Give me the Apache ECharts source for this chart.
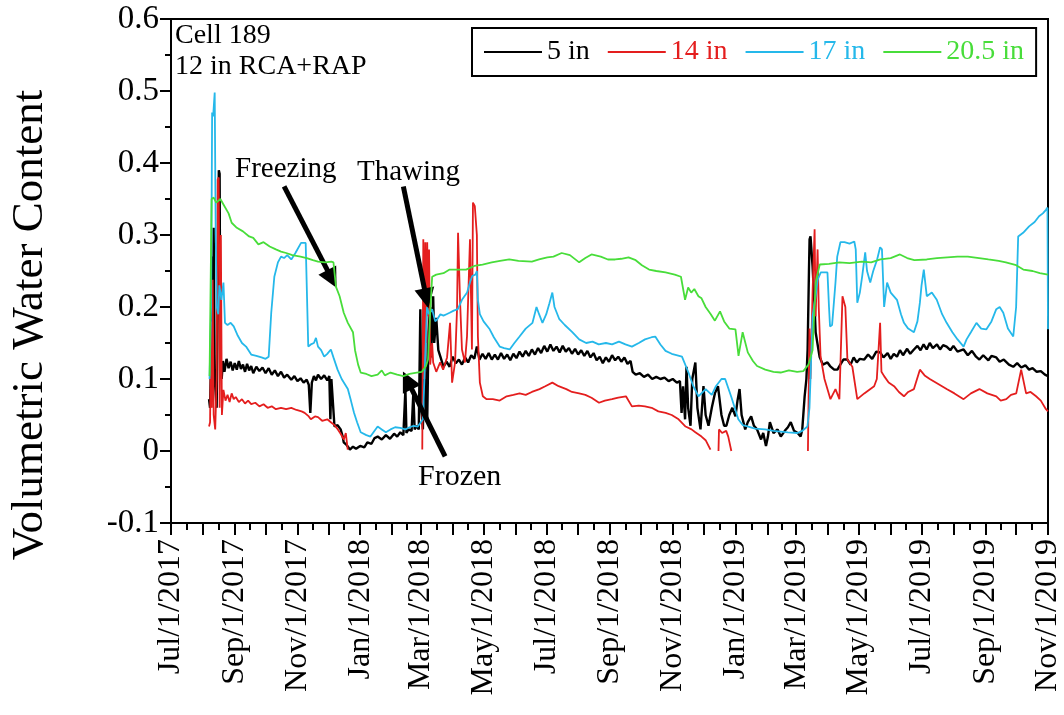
<!DOCTYPE html>
<html><head><meta charset="utf-8">
<script src="https://cdn.jsdelivr.net/npm/echarts@6/dist/echarts.min.js"></script>
<style>html,body{margin:0;padding:0;background:#fff}#c{width:1064px;height:715px}</style>
</head><body><div id="c"></div><script>
// ---- data (x = days since Jul/1/2017, y = volumetric water content) ----
const startDate = '2017-07-01';
const endDate = '2019-11-01';
const monthTickDates = ['2017-07-01','2017-08-01','2017-09-01','2017-10-01','2017-11-01','2017-12-01','2018-01-01','2018-02-01','2018-03-01','2018-04-01','2018-05-01','2018-06-01','2018-07-01','2018-08-01','2018-09-01','2018-10-01','2018-11-01','2018-12-01','2019-01-01','2019-02-01','2019-03-01','2019-04-01','2019-05-01','2019-06-01','2019-07-01','2019-08-01','2019-09-01','2019-10-01','2019-11-01'];
const tickLabelDates = ['2017-07-01','2017-09-01','2017-11-01','2018-01-01','2018-03-01','2018-05-01','2018-07-01','2018-09-01','2018-11-01','2019-01-01','2019-03-01','2019-05-01','2019-07-01','2019-09-01','2019-11-01'];
const tickLabels = ['Jul/1/2017','Sep/1/2017','Nov/1/2017','Jan/1/2018','Mar/1/2018','May/1/2018','Jul/1/2018','Sep/1/2018','Nov/1/2018','Jan/1/2019','Mar/1/2019','May/1/2019','Jul/1/2019','Sep/1/2019','Nov/1/2019'];
const seriesNames = ['5 in','14 in','17 in','20.5 in'];
const seriesColors = ['#000000','#e41e1e','#25b8ea','#48dd3a'];

const vwc5in = [[37,0.072],[38,0.06],[39,0.13],[39.6,0.27],[40.5,0.08],[41.5,0.31],[42.5,0.1],[44.4,0.06],[45.4,0.2],[46.5,0.39],[47.3,0.385],[48,0.12],[49.3,0.1],[50.5,0.125],[52,0.11],[54,0.128],[56,0.115],[58,0.124],[60,0.112],[62,0.122],[64,0.113],[66,0.125],[68,0.114],[70,0.12],[72,0.11],[74,0.121],[76,0.112],[78,0.118],[80,0.108],[83,0.117],[86,0.111],[89,0.116],[92,0.108],[95,0.115],[98,0.106],[101,0.112],[104,0.104],[107,0.11],[110,0.102],[113,0.106],[117,0.099],[120,0.104],[123,0.097],[126,0.101],[129,0.095],[132,0.099],[134,0.092],[135.5,0.053],[137,0.095],[139,0.104],[141,0.098],[143,0.106],[146,0.1],[149,0.105],[152,0.098],[154,0.104],[155,0.044],[156,0.1],[157.5,0.1],[159,0.034],[162,0.036],[165,0.03],[167,0.02],[168,0.012],[171,0.008],[174,0.002],[177,0.006],[180,0.003],[184,0.007],[188,0.005],[191,0.012],[195,0.01],[198,0.018],[201,0.02],[205,0.016],[209,0.022],[213,0.017],[217,0.024],[220,0.02],[223,0.026],[226,0.022],[228,0.086],[229,0.025],[231,0.03],[234,0.028],[235.7,0.081],[237,0.03],[239,0.035],[241,0.03],[242.5,0.197],[243.5,0.06],[245,0.03],[247,0.192],[248,0.05],[249.2,0.04],[250.5,0.165],[252,0.2],[253,0.13],[255,0.215],[256,0.15],[258,0.185],[260,0.14],[262,0.131],[265,0.117],[268,0.124],[271,0.117],[274,0.131],[277,0.122],[280,0.127],[283,0.12],[286,0.13],[289,0.123],[292,0.133],[295,0.128],[297.5,0.145],[300,0.127],[303,0.135],[306,0.128],[309,0.136],[312,0.127],[315,0.134],[318,0.127],[321,0.136],[324,0.128],[327,0.134],[330,0.126],[333,0.135],[336,0.129],[339,0.138],[342,0.131],[345,0.139],[348,0.132],[351,0.141],[354,0.134],[357,0.143],[360,0.136],[363,0.146],[366,0.138],[369,0.148],[372,0.139],[375,0.145],[378,0.137],[381,0.146],[384,0.138],[387,0.143],[390,0.135],[393,0.142],[396,0.134],[399,0.14],[402,0.132],[405,0.139],[408,0.13],[411,0.136],[414,0.126],[417,0.131],[420,0.122],[423,0.13],[426,0.124],[429,0.133],[432,0.126],[435,0.131],[438,0.124],[441,0.13],[444,0.121],[447,0.125],[449,0.11],[452,0.106],[456,0.108],[460,0.103],[464,0.106],[468,0.1],[472,0.103],[476,0.1],[480,0.102],[484,0.097],[488,0.1],[492,0.095],[495,0.097],[496.6,0.053],[498,0.09],[500,0.044],[501.4,0.117],[503,0.06],[505.3,0.035],[507,0.1],[510,0.123],[512,0.06],[515,0.03],[517.9,0.09],[520,0.05],[522.8,0.035],[526,0.06],[529,0.08],[532,0.09],[535.4,0.05],[538,0.035],[540.2,0.035],[543,0.05],[546,0.06],[549,0.048],[551,0.07],[553,0.086],[555,0.05],[558.5,0.03],[561,0.04],[564.3,0.048],[567,0.035],[570,0.03],[573.9,0.016],[576,0.025],[578.7,0.007],[580.6,0.02],[582.5,0.04],[586,0.025],[590,0.03],[593.1,0.02],[597,0.028],[600,0.033],[602.8,0.04],[606,0.028],[609.5,0.025],[612.4,0.02],[614,0.03],[616.3,0.076],[618,0.1],[619.2,0.141],[620.5,0.25],[621.1,0.294],[622,0.298],[624,0.257],[626,0.2],[627,0.165],[630.8,0.131],[634,0.12],[638.5,0.123],[641,0.118],[645,0.113],[648.2,0.113],[651,0.12],[654,0.127],[657.9,0.127],[661,0.12],[664,0.13],[667,0.123],[670,0.128],[674.3,0.127],[678,0.134],[682,0.128],[686,0.138],[689.7,0.137],[693,0.13],[697,0.136],[700,0.128],[703,0.135],[706.1,0.131],[709,0.14],[712,0.133],[716,0.142],[719,0.135],[722.6,0.141],[726,0.146],[729,0.14],[732,0.148],[735,0.141],[738,0.15],[741,0.143],[745,0.148],[748,0.141],[751,0.147],[754.4,0.145],[758,0.14],[761,0.146],[765,0.138],[770.9,0.141],[775,0.133],[779,0.139],[783,0.131],[786.3,0.127],[790,0.133],[795,0.126],[798,0.132],[802.7,0.13],[806,0.124],[810,0.127],[815,0.12],[819.2,0.117],[823,0.122],[827,0.116],[831,0.119],[834.6,0.113],[838,0.115],[842,0.11],[846,0.111],[850,0.106],[853,0.104]];

const vwc14in = [[37,0.034],[38,0.04],[39,0.18],[39.6,0.06],[40.5,0.238],[41.5,0.05],[43,0.03],[44.4,0.1],[45.4,0.377],[46.4,0.38],[47.3,0.06],[48.5,0.3],[49.5,0.05],[51,0.085],[53,0.07],[55,0.078],[57,0.068],[59,0.08],[61,0.072],[63,0.075],[66,0.068],[69,0.072],[72,0.066],[75,0.07],[78,0.065],[82,0.067],[86,0.062],[90,0.065],[94,0.06],[98,0.062],[102,0.058],[107,0.06],[112,0.058],[117,0.06],[122,0.057],[127,0.055],[130,0.053],[134,0.048],[136,0.044],[140,0.048],[143,0.047],[147,0.042],[152,0.044],[155.5,0.04],[159,0.036],[162.3,0.03],[165,0.024],[168.1,0.016],[170,0.025],[171.9,0.002],[172.5,null],[244.4,0.002],[245.4,0.294],[246.5,0.1],[247.3,0.29],[248.3,0.15],[249.2,0.29],[250.2,0.187],[251,0.28],[252.1,0.12],[254,0.15],[255,0.123],[258,0.11],[261.8,0.123],[264.7,0.113],[268.5,0.13],[271.4,0.178],[273.4,0.095],[276.3,0.123],[278.2,0.197],[279.2,0.303],[281.1,0.21],[283,0.141],[285.9,0.123],[287.9,0.159],[290.8,0.294],[292.7,0.141],[293.7,0.345],[295.5,0.34],[297.5,0.3],[298.5,0.159],[300.4,0.095],[303.3,0.076],[307,0.072],[313,0.072],[319.7,0.07],[326.5,0.076],[333,0.078],[339.1,0.08],[345,0.078],[351,0.082],[358.4,0.086],[364,0.09],[370.9,0.095],[377,0.09],[384.5,0.086],[390,0.082],[397,0.08],[403,0.078],[409,0.074],[416.3,0.067],[422,0.07],[428.9,0.072],[435,0.074],[442.5,0.076],[448.3,0.062],[455,0.063],[461,0.062],[467.5,0.06],[474,0.055],[481.1,0.053],[487,0.05],[493.7,0.044],[500.5,0.034],[506.3,0.03],[510,0.026],[516,0.02],[520,0.015],[524.7,0.002],[525.5,null],[532.5,0.0],[533,0.03],[536,0.025],[540,0.028],[542,0.02],[545,0.0],[545.5,null],[619.5,0.0],[621,0.17],[622,0.1],[624,0.22],[626,0.308],[627,0.187],[628.9,0.28],[630,0.2],[631.8,0.131],[635.6,0.1],[641.4,0.072],[646.3,0.086],[650.1,0.072],[653.1,0.215],[655.9,0.2],[657.9,0.127],[662.7,0.117],[667.5,0.072],[674.3,0.08],[683.9,0.09],[686.5,0.1],[689.7,0.178],[691,0.11],[693.6,0.104],[698,0.095],[703.3,0.09],[708,0.082],[712.9,0.076],[717,0.082],[722.6,0.086],[728.4,0.113],[733,0.105],[738,0.1],[745,0.094],[754.4,0.086],[762,0.08],[770.9,0.072],[778,0.08],[786.3,0.086],[794,0.08],[802.7,0.076],[807,0.07],[812.4,0.072],[817,0.078],[822.1,0.08],[826.9,0.113],[831.7,0.08],[836,0.082],[841.4,0.076],[846,0.07],[851,0.058],[853,0.055]];

const vwc17in = [[37.5,0.1],[39,0.2],[40,0.47],[41,0.465],[42.5,0.498],[43.5,0.3],[44.5,0.2],[46,0.19],[47,0.23],[49,0.21],[51,0.234],[52.5,0.178],[55,0.175],[58,0.178],[61,0.173],[65,0.16],[69,0.15],[73,0.145],[78,0.134],[83,0.132],[88,0.13],[92,0.128],[95,0.131],[97.5,0.192],[100.5,0.242],[104,0.262],[107,0.27],[110,0.268],[113,0.272],[117,0.266],[121,0.275],[126.5,0.289],[131,0.289],[132.5,0.289],[133.5,0.145],[136,0.148],[139,0.15],[141,0.157],[143,0.145],[146,0.14],[149,0.131],[152,0.135],[155.5,0.141],[158,0.13],[162,0.113],[166,0.1],[172,0.086],[175,0.07],[178,0.053],[181,0.04],[184.5,0.026],[190,0.022],[194,0.02],[198,0.028],[201,0.034],[205,0.03],[209,0.026],[213.5,0.03],[218,0.033],[223,0.032],[228,0.03],[232,0.033],[236,0.035],[240,0.034],[243,0.04],[245,0.044],[247,0.12],[249,0.2],[251,0.19],[254,0.197],[257,0.18],[259,0.183],[262,0.19],[265,0.188],[268,0.19],[271,0.192],[275,0.195],[279,0.197],[283,0.21],[288,0.22],[291,0.235],[293,0.243],[296,0.245],[297.5,0.25],[298.5,0.21],[300.4,0.19],[304,0.18],[310,0.169],[314,0.158],[319.7,0.145],[324,0.143],[329.4,0.141],[334,0.15],[339,0.159],[345,0.17],[351.6,0.178],[355.5,0.2],[358,0.19],[361.3,0.178],[365,0.19],[368,0.205],[370.9,0.22],[373,0.2],[377.7,0.183],[383,0.175],[390.3,0.165],[397,0.155],[403.8,0.15],[410,0.152],[416,0.148],[423,0.15],[429,0.148],[435.7,0.152],[442,0.148],[448.3,0.145],[455,0.15],[461,0.155],[467.5,0.158],[471,0.159],[476,0.148],[481,0.139],[487,0.135],[497,0.131],[503.3,0.109],[508,0.09],[513,0.076],[520,0.086],[526,0.078],[530,0.09],[535.4,0.1],[539,0.1],[545,0.075],[551.8,0.044],[556,0.036],[561.5,0.034],[568,0.031],[577.8,0.03],[586,0.028],[593,0.027],[600,0.026],[609.5,0.025],[614,0.028],[619,0.034],[621,0.06],[622,0.1],[624,0.187],[627,0.215],[629,0.238],[632,0.248],[638.5,0.248],[640,0.2],[641,0.173],[643,0.175],[646.3,0.234],[648,0.27],[651.1,0.29],[655,0.29],[660,0.288],[664.6,0.291],[666,0.28],[667.5,0.206],[670,0.22],[672.3,0.243],[675.2,0.276],[677,0.25],[680.1,0.234],[683,0.25],[686.8,0.266],[689.7,0.283],[691.5,0.28],[693.6,0.2],[696.5,0.234],[700,0.22],[706.1,0.21],[710,0.19],[712.9,0.178],[717,0.17],[722.6,0.165],[726,0.18],[728.4,0.206],[730,0.23],[732.2,0.252],[735.1,0.215],[740,0.22],[744.8,0.21],[750,0.19],[754.4,0.178],[760,0.165],[765,0.155],[770.9,0.145],[773.8,0.155],[778,0.165],[783.4,0.178],[788,0.17],[793.1,0.169],[798,0.18],[802.7,0.197],[806,0.2],[809.5,0.192],[814,0.17],[819.2,0.159],[822,0.2],[824,0.298],[828.8,0.303],[834.6,0.312],[840,0.318],[844.3,0.326],[848,0.33],[851,0.335],[852.5,0.338],[853,0.169]];

const vwc20_5in = [[37.5,0.104],[39.5,0.35],[41.5,0.352],[44,0.345],[48,0.35],[52,0.34],[56,0.33],[59,0.317],[64,0.31],[70,0.305],[76,0.298],[80,0.296],[85,0.287],[90,0.29],[96,0.284],[102,0.28],[107,0.277],[112,0.275],[118,0.272],[126,0.27],[132,0.268],[138,0.265],[143,0.263],[150,0.262],[156,0.263],[158,0.262],[160.5,0.228],[164,0.215],[168,0.192],[172,0.178],[177,0.165],[179,0.14],[182,0.12],[184.5,0.109],[190,0.107],[195,0.104],[201,0.106],[205,0.112],[208,0.105],[213.5,0.109],[220,0.106],[226,0.104],[232,0.107],[239,0.109],[244,0.11],[248,0.118],[250,0.127],[252,0.19],[254,0.242],[258,0.245],[265,0.247],[271,0.252],[280,0.252],[287,0.252],[295,0.257],[303,0.259],[312,0.262],[320,0.264],[329,0.266],[338,0.264],[351,0.263],[358,0.266],[366,0.269],[372,0.27],[380,0.275],[388,0.272],[397,0.262],[403,0.268],[409,0.273],[418,0.27],[425,0.266],[432,0.266],[438,0.267],[445,0.269],[452,0.265],[458,0.258],[465,0.252],[472,0.25],[481,0.248],[490,0.245],[496,0.242],[500,0.21],[503,0.227],[506,0.22],[509,0.225],[513,0.215],[516,0.212],[520,0.2],[525,0.19],[529,0.181],[534,0.194],[538,0.18],[543,0.17],[549,0.169],[552,0.132],[556,0.165],[561,0.137],[566,0.125],[570,0.118],[578,0.113],[586,0.11],[593,0.109],[601,0.112],[609,0.11],[615,0.111],[620,0.12],[624,0.14],[627,0.234],[631,0.259],[640,0.26],[650,0.262],[660,0.261],[672,0.263],[681,0.262],[690,0.266],[700,0.268],[709,0.273],[716,0.268],[723,0.265],[735,0.266],[745,0.268],[755,0.269],[765,0.27],[775,0.27],[786,0.268],[795,0.266],[805,0.264],[812,0.262],[822,0.258],[829,0.252],[838,0.25],[845,0.247],[853,0.245]];

// annotation arrows: [days, value] start -> end
const annotations = [
  {text:'Freezing', from:[110,0.3675], to:[156.5,0.239]},
  {text:'Thawing', from:[226,0.3675], to:[248.4,0.212]},
  {text:'Frozen', from:[266.6,-0.0075], to:[229.9,0.098]}
];

// ---- helpers ----
const toT = s => { const p = s.split('-').map(Number); return Date.UTC(p[0], p[1]-1, p[2]); };
const T0 = toT(startDate);
const dayT = d => T0 + d*86400000;
const toSeries = arr => arr.map(([d,v]) => [dayT(d), v]);
const labelByTime = {};
tickLabelDates.forEach((s,i) => { labelByTime[toT(s)] = tickLabels[i]; });
const majorTicks = monthTickDates.map(toT);
const midTicks = majorTicks.slice(0,-1).map((t,i) => (t + majorTicks[i+1]) / 2);

const FONT = 'Liberation Serif';
const allData = [vwc5in, vwc14in, vwc17in, vwc20_5in];

const series = allData.map((arr, i) => ({
  name: seriesNames[i], type: 'line', data: toSeries(arr), showSymbol: false,
  connectNulls: false, z: 2 + i,
  lineStyle: {color: seriesColors[i], width: i === 0 ? 2.4 : 1.8},
  itemStyle: {color: seriesColors[i]}
}));
series[3].markLine = {
  silent: true, animation: false, symbol: ['none','triangle'], symbolSize: 20,
  label: {show: false},
  itemStyle: {color: '#000'},
  lineStyle: {color: '#000', width: 5, type: 'solid'},
  data: annotations.map(a => [{coord:[dayT(a.from[0]), a.from[1]]}, {coord:[dayT(a.to[0]), a.to[1]]}])
};

const chart = echarts.init(document.getElementById('c'), null, {renderer: 'canvas'});
chart.setOption({
  animation: false,
  backgroundColor: '#fff',
  grid: {left: 169, right: 12, top: 19, bottom: 192, show: true, borderColor: '#000', borderWidth: 2},
  legend: {
    left: 472, top: 28, orient: 'horizontal',
    borderColor: '#000', borderWidth: 2, padding: [10, 12, 10, 12],
    itemGap: 18, itemWidth: 58, itemHeight: 2, icon: 'rect',
    textStyle: {fontFamily: FONT, fontSize: 28},
    data: seriesNames.map((n,i) => ({name: n, textStyle: {color: seriesColors[i], fontFamily: FONT, fontSize: 28}}))
  },
  xAxis: [{
    type: 'value', min: toT(startDate), max: toT(endDate),
    axisLine: {show: true, onZero: false, lineStyle: {color: '#000', width: 2}},
    axisTick: {show: true, length: 12, lineStyle: {color: '#000', width: 2}, customValues: majorTicks},
    axisLabel: {
      customValues: tickLabelDates.map(toT), rotate: 90, margin: 16,
      fontFamily: FONT, fontSize: 32, color: '#000', hideOverlap: false,
      formatter: v => labelByTime[v] || ''
    },
    splitLine: {show: false}
  }, {
    type: 'value', min: toT(startDate), max: toT(endDate), position: 'bottom',
    axisLine: {show: false, onZero: false},
    axisTick: {show: true, length: 7, lineStyle: {color: '#000', width: 2}, customValues: midTicks},
    axisLabel: {show: false},
    splitLine: {show: false}
  }],
  yAxis: {
    type: 'value', min: -0.1, max: 0.6, interval: 0.1,
    name: 'Volumetric Water Content', nameLocation: 'middle', nameGap: 118, nameRotate: 90,
    nameTextStyle: {fontFamily: FONT, fontSize: 45, color: '#000', padding: [0, 108, 0, 0]},
    axisLine: {show: true, onZero: false, lineStyle: {color: '#000', width: 2}},
    axisTick: {show: true, length: 11, lineStyle: {color: '#000', width: 2}},
    minorTick: {show: true, splitNumber: 2, length: 6, lineStyle: {color: '#000', width: 2}},
    axisLabel: {fontFamily: FONT, fontSize: 33, color: '#000', margin: 12,
      formatter: v => String(Math.round(v*10)/10)},
    splitLine: {show: false}
  },
  graphic: [
    {type: 'text', left: 175, top: 22, style: {text: 'Cell 189', font: '28px "Liberation Serif"', fill: '#000'}},
    {type: 'text', left: 175, top: 53, style: {text: '12 in RCA+RAP', font: '28px "Liberation Serif"', fill: '#000'}},
    {type: 'text', left: 235, top: 155, style: {text: annotations[0].text, font: '29px "Liberation Serif"', fill: '#000'}},
    {type: 'text', left: 357, top: 158, style: {text: annotations[1].text, font: '29px "Liberation Serif"', fill: '#000'}},
    {type: 'text', left: 418, top: 462, style: {text: annotations[2].text, font: '30px "Liberation Serif"', fill: '#000'}}
  ],
  series: series
});
</script></body></html>
